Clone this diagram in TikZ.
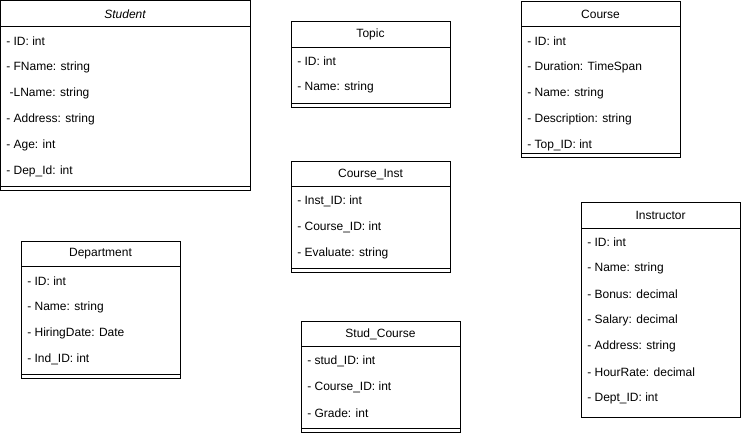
\documentclass[tikz,border=0pt]{standalone}
\usepackage{fontspec}
\setmainfont{Liberation Sans}
\tikzset{
  classbox/.style={draw=black,line width=0.75pt},
  classtitle/.style={inner sep=0pt,font=\fontsize{9}{11}\selectfont},
  attr/.style={anchor=west,inner sep=0pt,font=\fontsize{9}{11}\selectfont}
}
\begin{document}
\begin{tikzpicture}[line cap=rect,line join=miter,x=0.75pt,y=-0.75pt]
\useasboundingbox (0,0) rectangle (741,433);
% Student
\draw[classbox] (0.5,0.5) rectangle (250,190);
\draw[classbox] (0.5,26)--(250,26);
\draw[classbox] (0.5,186)--(250,186);
\node[classtitle] (student) at (125,14) {\itshape Student};
\foreach \t [count=\i] in {- ID: int,- FName: string,\hspace{2.5pt}-LName: string,- Address: string,- Age: int,- Dep\_Id: int}
  \node[attr] (student-\i) at (6,41+26*\i-26) {\t};
% Topic
\draw[classbox] (291,21) rectangle (450,107);
\draw[classbox] (291,47)--(450,47);
\draw[classbox] (291,103)--(450,103);
\node[classtitle] (topic) at (370.5,34) {Topic};
\foreach \t [count=\i] in {- ID: int,- Name: string}
  \node[attr] (topic-\i) at (297,61+26*\i-26) {\t};
% Course
\draw[classbox] (521,1) rectangle (680,157);
\draw[classbox] (521,26)--(680,26);
\draw[classbox] (521,153)--(680,153);
\node[classtitle] (course) at (600.5,14) {Course};
\foreach \t [count=\i] in {- ID: int,- Duration: TimeSpan,- Name: string,- Description: string,- Top\_ID: int}
  \node[attr] (course-\i) at (527,41+26*\i-26) {\t};
% Course_Inst
\draw[classbox] (291,161) rectangle (450,272);
\draw[classbox] (291,186)--(450,186);
\draw[classbox] (291,268)--(450,268);
\node[classtitle] (courseinst) at (370.5,174) {Course\_Inst};
\foreach \t [count=\i] in {- Inst\_ID: int,- Course\_ID: int,- Evaluate: string}
  \node[attr] (courseinst-\i) at (297,201+26*\i-26) {\t};
% Department
\draw[classbox] (21,241) rectangle (180,378);
\draw[classbox] (21,266)--(180,266);
\draw[classbox] (21,374)--(180,374);
\node[classtitle] (department) at (100.5,254) {Department};
\foreach \t [count=\i] in {- ID: int,- Name: string,- HiringDate: Date,- Ind\_ID: int}
  \node[attr] (department-\i) at (27,281+26*\i-26) {\t};
% Stud_Course
\draw[classbox] (301,321) rectangle (460,432);
\draw[classbox] (301,346)--(460,346);
\draw[classbox] (301,428)--(460,428);
\node[classtitle] (studcourse) at (380.5,334) {Stud\_Course};
\foreach \t [count=\i] in {- stud\_ID: int,- Course\_ID: int,- Grade: int}
  \node[attr] (studcourse-\i) at (307,361+26*\i-26) {\t};
% Instructor
\draw[classbox] (581,202) rectangle (740,417);
\draw[classbox] (581,228)--(740,228);
\node[classtitle] (instructor) at (660.5,215) {Instructor};
\foreach \t [count=\i] in {- ID: int,- Name: string,- Bonus: decimal,- Salary: decimal,- Address: string,- HourRate: decimal,- Dept\_ID: int}
  \node[attr] (instructor-\i) at (587,242+26*\i-26) {\t};
\end{tikzpicture}
\end{document}
